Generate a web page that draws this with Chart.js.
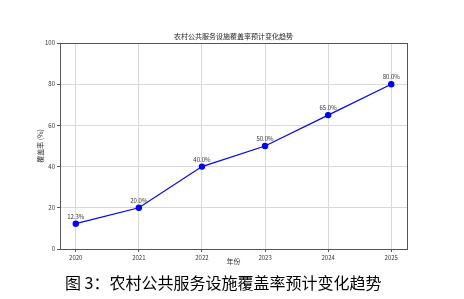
<!DOCTYPE html>
<html>
<head>
<meta charset="utf-8">
<script src="https://cdn.jsdelivr.net/npm/chart.js@4.4.0/dist/chart.umd.min.js"></script>
<style>
  html, body { margin:0; padding:0; background:#fff; }
  #wrap { position:relative; width:464px; height:299px; }
  #caption {
    position:absolute; left:65px; top:272px; white-space:nowrap;
    font-family:"Noto Sans CJK SC", sans-serif; font-size:16px; color:#000; line-height:20px;
  }
</style>
</head>
<body>
<div id="wrap">
  <canvas id="c" width="464" height="299"></canvas>
  <div id="caption">图 3：农村公共服务设施覆盖率预计变化趋势</div>
</div>
<script>
// ─── Data ─────────────────────────────────────────────────────────────────────
const YEARS    = [2020, 2021, 2022, 2023, 2024, 2025];
const COVERAGE = [12.3, 20.0, 40.0, 50.0, 65.0, 80.0];
const Y_TICKS  = [0, 20, 40, 60, 80, 100];
const TITLE    = '农村公共服务设施覆盖率预计变化趋势';

const FONT = "'Noto Sans CJK SC', 'DejaVu Sans', sans-serif";
const TICK_STYLE = { color:'#333', font:{family:FONT, size:6} };
const GRID_COLOR = '#d8d8d8';

// value labels above points
const pointLabels = {
  id:'pointLabels',
  afterDatasetsDraw(chart) {
    const {ctx} = chart;
    const meta = chart.getDatasetMeta(0);
    ctx.save();
    ctx.font = `6px ${FONT}`;
    ctx.fillStyle = '#333';
    ctx.textAlign = 'center';
    ctx.textBaseline = 'bottom';
    meta.data.forEach((pt, i) => {
      ctx.fillText(`${COVERAGE[i].toFixed(1)}%`, pt.x, pt.y - 4);
    });
    ctx.restore();
  }
};

// plot frame + title centred over the plot area
const frame = {
  id:'frame',
  beforeDatasetsDraw(chart) {
    const {ctx, chartArea:a} = chart;
    ctx.save();
    ctx.strokeStyle = '#555';
    ctx.lineWidth = 1;
    ctx.strokeRect(Math.round(a.left)+0.5, Math.round(a.top)+0.5, Math.round(a.width), Math.round(a.height));
    ctx.font = `7px ${FONT}`;
    ctx.fillStyle = '#222';
    ctx.textAlign = 'center';
    ctx.textBaseline = 'middle';
    ctx.fillText(TITLE, (a.left + a.right) / 2, a.top - 7);
    ctx.restore();
  }
};

new Chart(document.getElementById('c'), {
  type:'line',
  data:{
    datasets:[{
      data: YEARS.map((y,i)=>({x:y, y:COVERAGE[i]})),
      borderColor:'#0000ff', backgroundColor:'#0000ff',
      borderWidth:1.2, pointRadius:2.6, pointHoverRadius:2.6,
      tension:0, fill:false,
    }]
  },
  options:{
    responsive:false, animation:false,
    layout:{ padding:{ left:0, right:57, top:43, bottom:25 } },
    plugins:{ legend:{display:false}, tooltip:{enabled:false}, title:{display:false} },
    scales:{
      x:{
        type:'linear', min:2019.75, max:2025.25,
        afterBuildTicks: s => { s.ticks = YEARS.map(v=>({value:v})); },
        afterFit: s => { s.height = 25; },
        ticks:{ ...TICK_STYLE, padding:2, maxRotation:0, callback:v=>String(v) },
        grid:{ color:GRID_COLOR, tickLength:3, tickColor:'#555' },
        border:{ color:'#555' },
        title:{ display:true, text:'年份', color:'#333', font:{family:FONT, size:7}, padding:{top:0, bottom:8} }
      },
      y:{
        min:0, max:100,
        afterBuildTicks: s => { s.ticks = Y_TICKS.map(v=>({value:v})); },
        afterFit: s => { s.width = 60; },
        ticks:{ ...TICK_STYLE, padding:2 },
        grid:{ color:GRID_COLOR, tickLength:3, tickColor:'#555' },
        border:{ color:'#555' },
        title:{ display:true, text:'覆盖率 (%)', color:'#333', font:{family:FONT, size:7}, padding:{top:36, bottom:0} }
      }
    }
  },
  plugins:[frame, pointLabels]
});
</script>
</body>
</html>
